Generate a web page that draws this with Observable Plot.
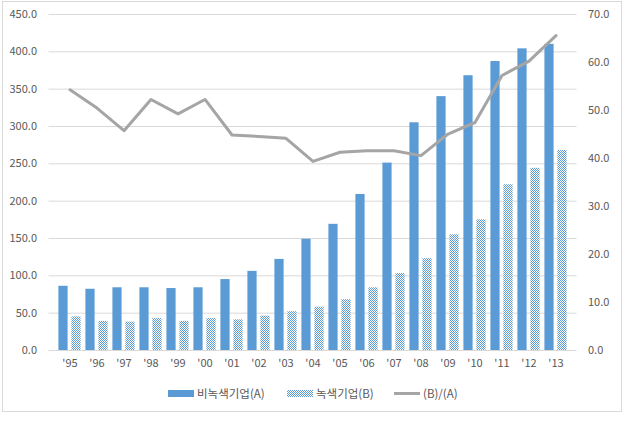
<!DOCTYPE html>
<html>
<head>
<meta charset="utf-8">
<script src="https://cdn.jsdelivr.net/npm/d3@7"></script>
<script src="https://cdn.jsdelivr.net/npm/@observablehq/plot@0.6"></script>
<style>
  html, body { margin: 0; padding: 0; background: #fff; }
  body { width: 638px; height: 427px; position: relative; overflow: hidden;
         font-family: "Noto Sans CJK KR", "Noto Sans", sans-serif; }
  #frame { position: absolute; left: 2px; top: 1px; width: 618px; height: 409px;
           border: 1px solid #D9D9D9; box-sizing: content-box; }
  #chart { position: absolute; left: 0; top: 0; }
  #legend { position: absolute; left: 0; top: 384px; width: 638px; height: 18px;
            display: flex; justify-content: flex-start; align-items: center;
            font-size: 11.5px; color: #595959; }
  #legend .item { display: flex; align-items: center; position: absolute; }
  #legend svg { margin-right: 2px; }
</style>
</head>
<body>
<div id="frame"></div>
<div id="chart"></div>
<div id="legend"></div>
<script>
// ---- data ----
const years = ["'95","'96","'97","'98","'99","'00","'01","'02","'03","'04","'05","'06","'07","'08","'09","'10","'11","'12","'13"];
const nonGreen = [86, 82, 84, 84, 83, 84, 95, 106, 122, 149, 169, 209, 251, 305, 340, 368, 387, 404, 410]; // 비녹색기업(A)
const green    = [45, 39, 38, 43, 39, 43, 41, 46, 52, 58, 68, 84, 103, 123, 155, 175, 222, 244, 268];   // 녹색기업(B)
const ratio    = [54.3, 50.5, 45.8, 52.3, 49.3, 52.3, 44.9, 44.6, 44.2, 39.4, 41.3, 41.6, 41.6, 40.6, 45.1, 47.5, 57.3, 60.3, 65.6]; // (B)/(A)
const leftTicks = [0, 50, 100, 150, 200, 250, 300, 350, 400, 450];
const rightTicks = [0, 10, 20, 30, 40, 50, 60, 70];
const seriesNames = ["비녹색기업(A)", "녹색기업(B)", "(B)/(A)"];

const LEFT_MAX = 450, RIGHT_MAX = 70;
const k = LEFT_MAX / RIGHT_MAX;

const rows = years.map((y, i) => ({year: y, a: nonGreen[i], b: green[i], r: ratio[i]}));

const BLUE = "#5B9BD5";
const GRAY = "#A5A5A5";
const TEXT = "#595959";

const W = 638, H = 380;
const chart = Plot.plot({
  width: W,
  height: H,
  marginTop: 14,
  marginBottom: 30,
  marginLeft: 48.5,
  marginRight: 61.5,
  style: {fontFamily: '"Noto Sans CJK KR", "Noto Sans", sans-serif', fontSize: "11px", color: TEXT, background: "transparent"},
  x: {type: "band", domain: years, padding: 0, label: null},
  y: {domain: [0, LEFT_MAX], label: null},
  marks: [
    Plot.ruleY(leftTicks, {stroke: "#D9D9D9", strokeWidth: 1}),
    Plot.barY(rows, {x: "year", y: "a", fill: BLUE, insetLeft: 2.4, insetRight: 15.4}),
    Plot.barY(rows, {x: "year", y: "b", fill: "url(#checker)", insetLeft: 15.4, insetRight: 2.4}),
    Plot.lineY(rows, {x: "year", y: d => d.r * k, stroke: GRAY, strokeWidth: 3, strokeLinejoin: "round", curve: "linear"}),
    Plot.axisY(leftTicks, {anchor: "left", tickSize: 0, tickPadding: 12, tickFormat: d => d.toFixed(1), fill: TEXT, fontSize: 11, label: null}),
    Plot.axisY(rightTicks.map(v => v * k), {anchor: "right", tickSize: 0, tickPadding: 11, tickFormat: d => (d / k).toFixed(1), fill: TEXT, fontSize: 11, label: null}),
    Plot.axisX({tickSize: 0, tickPadding: 9, fill: TEXT, fontSize: 11, label: null})
  ]
});

// checker pattern for the 녹색기업(B) bars
const defs = `<defs><pattern id="checker" patternUnits="userSpaceOnUse" width="2" height="2">
  <rect width="2" height="2" fill="#ffffff"/>
  <rect x="0" y="0" width="1" height="1" fill="${BLUE}"/>
  <rect x="1" y="1" width="1" height="1" fill="${BLUE}"/>
</pattern></defs>`;
chart.insertAdjacentHTML("afterbegin", defs);
document.getElementById("chart").appendChild(chart);

// legend
const legend = document.getElementById("legend");
const items = [
  {name: seriesNames[0], left: 168, sw: `<rect x="0" y="3" width="26" height="7" fill="${BLUE}"/>`},
  {name: seriesNames[1], left: 287, sw: `<defs><pattern id="checker2" patternUnits="userSpaceOnUse" width="2" height="2"><rect width="2" height="2" fill="#fff"/><rect width="1" height="1" fill="${BLUE}"/><rect x="1" y="1" width="1" height="1" fill="${BLUE}"/></pattern></defs><rect x="0" y="3" width="26" height="7" fill="url(#checker2)"/>`},
  {name: seriesNames[2], left: 394, sw: `<line x1="0" x2="26" y1="6.5" y2="6.5" stroke="${GRAY}" stroke-width="3"/>`}
];
for (const it of items) {
  const div = document.createElement("div");
  div.className = "item";
  div.style.left = it.left + "px";
  div.innerHTML = `<svg width="27" height="13">${it.sw}</svg><span>${it.name}</span>`;
  legend.appendChild(div);
}
</script>
</body>
</html>
